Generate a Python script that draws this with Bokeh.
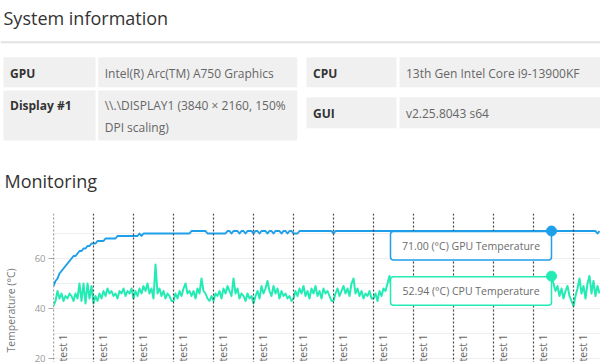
import math
from bokeh.plotting import figure
from bokeh.layouts import column, row
from bokeh.models import Range1d, Span, BoxAnnotation, FixedTicker
from bokeh.core.properties import value
from bokeh.embed import file_html
from bokeh.resources import INLINE

# ------------------------------------------------------------------ data
info_title = "System information"
monitor_title = "Monitoring"

left_keys = ["GPU", "Display #1"]
left_values = ["Intel(R) Arc(TM) A750 Graphics",
               "\\\\.\\DISPLAY1 (3840 × 2160, 150%\nDPI scaling)"]
right_keys = ["CPU", "GUI"]
right_values = ["13th Gen Intel Core i9-13900KF", "v2.25.8043 s64"]

y_axis_title = "Temperature (°C)"
unit_text = "(°C)"
series_names = ["GPU Temperature", "CPU Temperature"]

sample_interval_s = 3

gpu_temp = [
    49, 51, 52, 54, 55, 56, 57, 58, 59, 60, 61, 61, 62, 63, 63, 64, 64, 65, 65, 66,
    66, 66, 67, 67, 67, 67, 68, 68, 68, 68, 68, 68, 69, 69, 69, 69, 69, 69, 69, 69,
    69, 69, 69, 70, 69, 70, 70, 70, 70, 70, 70, 70, 70, 70, 70, 70, 70, 70, 70, 70,
    70, 70, 70, 70, 70, 70, 70, 70, 70, 71, 71, 71, 71, 71, 71, 71, 71, 70, 70, 70,
    70, 70, 70, 70, 70, 70, 70, 71, 71, 70, 71, 71, 71, 70, 71, 71, 70, 71, 71, 71,
    70, 71, 71, 70, 71, 71, 71, 70, 71, 71, 70, 71, 71, 71, 70, 71, 71, 70, 71, 71,
    70, 70, 70, 71, 71, 71, 71, 71, 71, 71, 71, 71, 71, 71, 71, 71, 71, 71, 71, 71,
    70, 71, 71, 71, 71, 71, 71, 71, 71, 71, 71, 71, 71, 71, 71, 71, 71, 71, 71, 71,
    71, 71, 71, 71, 71, 71, 71, 71, 71, 71, 71, 71, 71, 71, 71, 71, 71, 71, 71, 71,
    71, 71, 71, 71, 71, 71, 71, 71, 71, 71, 71, 71, 71, 71, 71, 71, 71, 71, 71, 71,
    71, 71, 71, 71, 71, 71, 71, 71, 71, 71, 71, 71, 71, 71, 71, 71, 71, 71, 71, 71,
    71, 71, 71, 71, 71, 71, 71, 71, 71, 71, 71, 71, 71, 71, 71, 71, 71, 71, 71, 71,
    71, 71, 71, 71, 71, 71, 71, 71, 71, 71, 71, 71, 71, 71, 71, 71, 71, 71, 71, 71,
    71, 71, 71, 71, 71, 71, 71, 71, 71, 71, 71, 71, 70, 71,
]

cpu_temp = [
    41, 43, 47, 44, 46, 43, 45, 44, 46, 45, 43, 46, 44, 50, 43, 50, 42, 50, 44, 49,
    42, 45, 43, 46, 44, 47, 45, 48, 46, 47, 45, 46, 44, 47, 46, 48, 45, 47, 46, 48,
    44, 47, 45, 48, 46, 49, 47, 50, 46, 48, 44, 57.6, 46, 48, 45, 47, 44, 46, 45, 43,
    43, 46, 44, 47, 45, 48, 50, 46, 47, 45, 47, 44, 48, 46, 52, 47, 46, 44, 43, 45,
    43, 46, 45, 47, 44, 48, 46, 49, 47, 45, 52, 46, 48, 44, 46, 45, 43, 46, 44, 45,
    42, 45, 47, 44, 49, 46, 48, 51, 47, 45, 49, 46, 48, 44, 47, 45, 46, 44, 45, 43,
    44, 47, 45, 48, 46, 49, 45, 47, 44, 48, 46, 49, 45, 47, 44, 48, 46, 47, 45, 43,
    43, 46, 48, 45, 47, 49, 46, 48, 45, 50, 52, 46, 48, 45, 47, 44, 46, 45, 47, 44,
    44, 46, 43, 47, 45, 48, 47, 50, 53, 48, 50, 47, 49, 46, 48, 47, 50, 46, 48, 47,
    49, 46, 48, 47, 50, 47, 52.6, 48, 46, 49, 47, 48, 46, 49, 47, 50, 46, 48, 47, 49,
    46, 48, 47, 50, 46, 48, 47, 49, 46, 48, 50, 47, 48, 46, 49, 47, 48, 46, 50, 47,
    48, 52.6, 48, 46, 49, 47, 48, 46, 50, 47, 48, 46, 49, 47, 48, 46, 50, 47, 48, 46,
    49, 47, 48, 50, 47, 49, 48, 50, 51, 52.94, 50, 47, 49, 45, 48, 44, 47, 49, 45, 43,
    41, 45, 48, 52, 46, 49, 44, 50, 53, 46, 51, 45, 49, 46,
]

time_s = [i * sample_interval_s for i in range(len(cpu_temp))]

test_start_s = [0, 60, 120, 180, 240, 300, 360, 420, 480, 540, 600, 660, 720, 780]
test_names = ["test 1", "test 1", "test 1", "test 1", "test 1", "test 1", "test 1",
              "test 1", "test 1", "test 1", "test 1", "test 1", "test 1", "test 1"]

y_ticks = [20, 40, 60]
y_minor_ticks = [30, 50, 70]

hover_time_s = 747
hover_gpu = 71.00
hover_cpu = 52.94

# ------------------------------------------------------------------ styles / layout
FONT = "Open Sans"
GPU_COLOR = "#1e9fea"
CPU_COLOR = "#22ebb4"
CELL_BG = "#f0f0f0"

PAGE_W = 600
FIG_A_H = 213          # page y 0 .. 213
FIG_B_H = 149          # page y 213 .. 362
TITLE_W = 20           # strip holding the y-axis title
FRAME_LEFT = 53
PX_X = 1.5             # seconds per pixel in chart
PX_Y = 0.4             # degrees per pixel in chart
Y_TOP = 78.0
FRAME_W = PAGE_W - FRAME_LEFT
Y_TITLE_CENTER = 39.2  # y-axis title centre (in axis units)

# ---------------------------------------------------------------- figure A: header + table
pa = figure(width=PAGE_W, height=FIG_A_H, x_range=Range1d(0, PAGE_W), y_range=Range1d(FIG_A_H, 0),
            toolbar_location=None, output_backend="svg",
            x_axis_location=None, y_axis_location=None, min_border=0,
            outline_line_color=None)
pa.grid.visible = False
pa.frame_align = False

pa.text(x=[3], y=[17.5], text=[info_title], text_font=value(FONT), text_font_size="18px",
        text_color="#333333", text_baseline="middle", text_align="left")
pa.add_layout(Span(location=41.7, dimension="width", line_color="#e2e2e2", line_width=2))
pa.text(x=[4], y=[180], text=[monitor_title], text_font=value(FONT), text_font_size="18px",
        text_color="#333333", text_baseline="middle", text_align="left")

tables = [
    (left_keys, left_values, (3, 95), (97.7, 296.7), [(56.7, 86.7), (90, 140)]),
    (right_keys, right_values, (306, 396), (399, 610), [(56.7, 86.7), (96.7, 127.7)]),
]
TEXT_PAD = 6.5
LINE_H = 21.7
FIRST_LINE = 15

cl, cr, ct, cb = [], [], [], []
kx, ky, kt = [], [], []
vx, vy, vt = [], [], []
for keys, vals, kcol, vcol, rows in tables:
    for k, v, (top, bot) in zip(keys, vals, rows):
        for col in (kcol, vcol):
            cl.append(col[0]); cr.append(col[1]); ct.append(top); cb.append(bot)
        lines = v.split("\n")
        if len(lines) == 1:
            ys = [(top + bot) / 2 + 1]
        else:
            ys = [top + FIRST_LINE + j * LINE_H for j in range(len(lines))]
        kx.append(kcol[0] + TEXT_PAD); ky.append(ys[0]); kt.append(k)
        for yy, ln in zip(ys, lines):
            vx.append(vcol[0] + TEXT_PAD); vy.append(yy); vt.append(ln)

pa.quad(left=cl, right=cr, top=ct, bottom=cb, fill_color=CELL_BG, line_color=None)
pa.text(x=kx, y=ky, text=kt, text_font=value(FONT), text_font_size="12px",
        text_font_style="bold", text_color="#333333", text_baseline="middle")
pa.text(x=vx, y=vy, text=vt, text_font=value(FONT), text_font_size="12px",
        text_color="#666666", text_baseline="middle")

# ---------------------------------------------------------------- y-axis title strip
y_lo = Y_TOP - FIG_B_H * PX_Y
pc = figure(width=TITLE_W, height=FIG_B_H, x_range=Range1d(0, TITLE_W),
            y_range=Range1d(y_lo, Y_TOP), toolbar_location=None, output_backend="svg",
            x_axis_location=None, y_axis_location=None, min_border=0,
            outline_line_color=None)
pc.grid.visible = False
pc.frame_align = False
pc.text(x=[10.5], y=[Y_TITLE_CENTER], text=[y_axis_title], angle=math.pi / 2,
        text_align="center", text_baseline="middle", text_font=value(FONT),
        text_font_size="10.5px", text_color="#777777")

# ---------------------------------------------------------------- figure B: monitoring chart
pb = figure(width=PAGE_W - TITLE_W, height=FIG_B_H,
            x_range=Range1d(0, FRAME_W * PX_X),
            y_range=Range1d(y_lo, Y_TOP),
            toolbar_location=None, output_backend="svg", x_axis_location=None,
            min_border_left=FRAME_LEFT - TITLE_W, min_border_right=0,
            min_border_top=0, min_border_bottom=0,
            outline_line_color=None)
pb.frame_align = False
ax = pb.yaxis[0]
ax.ticker = FixedTicker(ticks=y_ticks, minor_ticks=y_minor_ticks)
ax.axis_line_color = None
ax.major_tick_in = 0
ax.major_tick_out = 5
ax.major_tick_line_color = "#aaaaaa"
ax.minor_tick_in = 0
ax.minor_tick_out = 0
ax.major_label_text_font = FONT
ax.major_label_text_font_size = "9.5px"
ax.major_label_text_color = "#999999"
ax.major_label_standoff = 3
pb.ygrid.grid_line_color = "#eeeeee"
pb.ygrid.minor_grid_line_color = "#eeeeee"
pb.xgrid.visible = False

pb.line(time_s, gpu_temp, line_color=GPU_COLOR, line_width=2, line_join="round")
pb.line(time_s, cpu_temp, line_color=CPU_COLOR, line_width=2, line_join="round")

for t in test_start_s:
    pb.add_layout(Span(location=t, dimension="height", line_color="#444444",
                       line_dash="2 2", line_width=1.2))

label_y = Y_TOP - (FIG_B_H - 1) * PX_Y
pb.text(x=test_start_s, y=[label_y] * len(test_start_s), text=test_names,
        angle=math.pi / 2, text_align="left", text_baseline="top",
        x_offset=2, y_offset=0, text_font=value(FONT), text_font_size="10.5px",
        text_color="#666666")

# hover labels
BOX_W_PX = 161
BOX_H_PX = 28.5
hx, hy, ht = [], [], []
for val, name, col in ((hover_gpu, series_names[0], GPU_COLOR),
                       (hover_cpu, series_names[1], CPU_COLOR)):
    top = val - 0.2
    bot = top - BOX_H_PX * PX_Y
    pb.add_layout(BoxAnnotation(left=hover_time_s - BOX_W_PX * PX_X, right=hover_time_s,
                                top=top, bottom=bot, fill_color="white", fill_alpha=1,
                                line_color=col, line_width=1.5, border_radius=3,
                                line_alpha=1))
    hx.append(hover_time_s - BOX_W_PX * PX_X / 2)
    hy.append((top + bot) / 2)
    ht.append(f"{val:.2f} {unit_text} {name}")

pb.text(x=hx, y=hy, text=ht, text_align="center", text_baseline="middle",
        text_font=value(FONT), text_font_size="10.5px", text_color="#6b6b6b",
        level="overlay")
pb.scatter(x=[hover_time_s, hover_time_s], y=[hover_gpu, hover_cpu], size=10,
           fill_color=[GPU_COLOR, CPU_COLOR], line_color=[GPU_COLOR, CPU_COLOR],
           level="overlay")

layout = column(pa, row(pc, pb, spacing=0), spacing=0)
open("out.html", "w").write(file_html(layout, INLINE))
